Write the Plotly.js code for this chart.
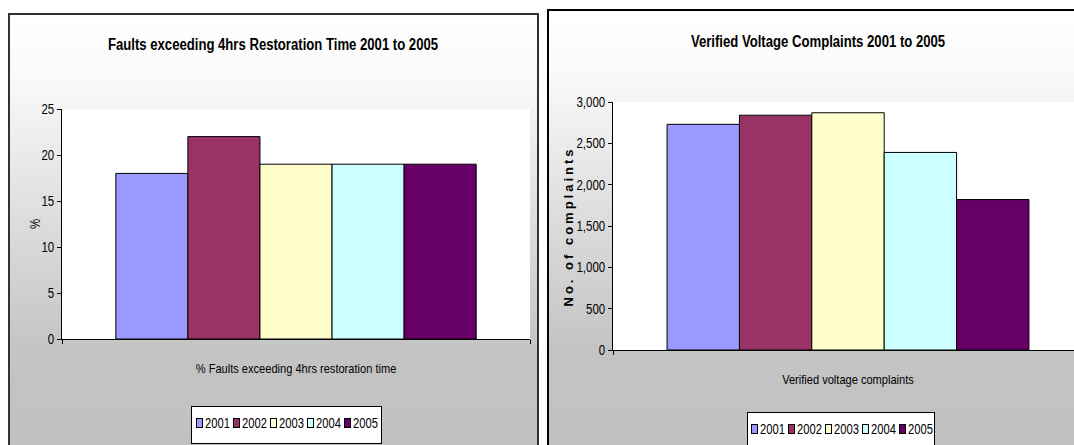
<!DOCTYPE html>
<html>
<head>
<meta charset="utf-8">
<script src="https://cdn.plot.ly/plotly-3.0.1.min.js"></script>
<style>
  html, body { margin:0; padding:0; background:#ffffff; }
  body { width:1074px; height:445px; overflow:hidden; position:relative;
         font-family:"Liberation Sans",Arial,sans-serif; }
  .panel { position:absolute; box-sizing:border-box; height:470px;
           background:linear-gradient(to bottom,#ffffff 0%,#f9f9f9 14%,#dcdcdc 45%,#c4c4c4 72%,#c0c0c0 100%); }
  #panelL { left:8px; top:13px; width:531px; border:2px solid #333333; }
  #panelR { left:547px; top:9px; width:560px; border:2px solid #000000; }
  .chart { position:absolute; top:0; height:445px; }
  #chartL { left:0; width:540px; }
  #chartR { left:540px; width:560px; }
  .legend { position:absolute; box-sizing:border-box; background:#ffffff; border:1px solid #000;
            height:38px; display:flex; align-items:flex-start; justify-content:center; padding-top:8px;
            font-size:14px; line-height:16px; color:#000; }
  .legend .item { display:flex; align-items:center; margin:0 1px 0 2px; }
  .legend .sw { width:7px; height:10px; border:1px solid #000; margin-right:2px; box-sizing:border-box; }
  .legend .txt { display:inline-block; width:25px; white-space:nowrap; }
  .legend .txt span { display:inline-block; transform:scaleX(0.8); transform-origin:0 50%; }
  #legendL { left:191px; top:406px; width:191px; }
  #legendR { left:747px; top:412px; width:188px; }
</style>
</head>
<body>
<div id="panelL" class="panel"></div>
<div id="panelR" class="panel"></div>
<div id="chartL" class="chart"></div>
<div id="chartR" class="chart"></div>
<div id="legendL" class="legend"></div>
<div id="legendR" class="legend"></div>
<script>
// ---- data ----
const years = ['2001', '2002', '2003', '2004', '2005'];
const yearColors = ['#9999FF', '#993366', '#FFFFCC', '#CCFFFF', '#660066'];
const faultsCategory = ['% Faults exceeding 4hrs restoration time'];
const faultsPct = [18, 22, 19, 19, 19];
const complaintsCategory = ['Verified voltage complaints'];
const complaints = [2730, 2840, 2870, 2390, 1820];
const faultsTitle = 'Faults exceeding 4hrs Restoration Time 2001 to 2005';
const complaintsTitle = 'Verified Voltage Complaints 2001 to 2005';
const faultsYTitle = '%';
const complaintsYTitle = 'No. of complaints';

const FONT = '"Liberation Sans",Arial,sans-serif';
const NARROW = 0.82;

function traces(cat, vals) {
  return years.map((y, i) => ({
    type: 'bar', name: y, x: cat, y: [vals[i]],
    marker: { color: yearColors[i], line: { color: '#000000', width: 1 } },
    hoverinfo: 'skip', showlegend: false
  }));
}

function baseAxisX() {
  return {
    type: 'category', range: [-0.5, 0.5], showline: true, linecolor: '#000', linewidth: 1,
    ticks: 'outside', tickson: 'boundaries', ticklen: 4, tickcolor: '#000',
    showgrid: false, zeroline: false, ticklabelstandoff: 17,
    tickfont: { family: FONT, size: 13.5, color: '#000' }, fixedrange: true
  };
}
function baseAxisY(range, dtick, fmt) {
  return {
    range: range, dtick: dtick, tick0: 0, tickformat: fmt, showline: true, linecolor: '#000', linewidth: 1,
    ticks: 'outside', ticklen: 4, tickcolor: '#000', showgrid: false, zeroline: false,
    tickfont: { family: FONT, size: 14, color: '#000' }, fixedrange: true
  };
}

const layoutL = {
  width: 540, height: 445,
  margin: { l: 62, r: 10, t: 109, b: 106 },
  paper_bgcolor: 'rgba(0,0,0,0)', plot_bgcolor: '#ffffff',
  barmode: 'group', bargap: 0.23, bargroupgap: 0,
  title: { text: '<b>' + faultsTitle + '</b>', xref: 'container', yref: 'container',
           x: 273 / 540, y: 1 - 44 / 445, xanchor: 'center', yanchor: 'middle',
           font: { family: FONT, size: 16, color: '#000' } },
  xaxis: baseAxisX(),
  yaxis: baseAxisY([0, 25], 5, ''),
  annotations: [{
    text: faultsYTitle, xref: 'paper', yref: 'paper', x: (35 - 62) / 468, y: 0.5,
    xanchor: 'center', yanchor: 'middle', textangle: -90, showarrow: false,
    font: { family: FONT, size: 14, color: '#000' }
  }]
};

const layoutR = {
  width: 560, height: 445,
  margin: { l: 73, r: 17, t: 102, b: 95 },
  paper_bgcolor: 'rgba(0,0,0,0)', plot_bgcolor: '#ffffff',
  barmode: 'group', bargap: 0.23, bargroupgap: 0,
  title: { text: '<b>' + complaintsTitle + '</b>', xref: 'container', yref: 'container',
           x: 278 / 560, y: 1 - 41 / 445, xanchor: 'center', yanchor: 'middle',
           font: { family: FONT, size: 16, color: '#000' } },
  xaxis: baseAxisX(),
  yaxis: baseAxisY([0, 3000], 500, ','),
  annotations: [{
    text: '<b>' + complaintsYTitle + '</b>', xref: 'paper', yref: 'paper', x: (568 - 613) / 470, y: 0.49,
    xanchor: 'center', yanchor: 'middle', textangle: -90, showarrow: false,
    font: { family: FONT, size: 13, color: '#000' }
  }]
};

// Emulate the narrow (Arial Narrow style) typeface of the original chart
function narrowText(gd) {
  gd.querySelectorAll('text').forEach(t => {
    const w = t.getComputedTextLength();
    if (!(w > 0)) return;
    if (t.closest('.annotation') && t.textContent === complaintsYTitle) {
      t.setAttribute('textLength', 157);
      t.setAttribute('lengthAdjust', 'spacing');
      return;
    }
    t.setAttribute('textLength', (w * NARROW).toFixed(2));
    t.setAttribute('lengthAdjust', 'spacingAndGlyphs');
  });
}

const config = { staticPlot: true, displayModeBar: false };
Plotly.newPlot('chartL', traces(faultsCategory, faultsPct), layoutL, config)
  .then(gd => narrowText(gd));
Plotly.newPlot('chartR', traces(complaintsCategory, complaints), layoutR, config)
  .then(gd => narrowText(gd));

function buildLegend(id) {
  const el = document.getElementById(id);
  years.forEach((y, i) => {
    const item = document.createElement('span');
    item.className = 'item';
    const sw = document.createElement('span');
    sw.className = 'sw';
    sw.style.background = yearColors[i];
    const t = document.createElement('span');
    t.className = 'txt';
    const inner = document.createElement('span');
    inner.textContent = y;
    t.appendChild(inner);
    item.appendChild(sw); item.appendChild(t);
    el.appendChild(item);
  });
}
buildLegend('legendL');
buildLegend('legendR');
</script>
</body>
</html>
